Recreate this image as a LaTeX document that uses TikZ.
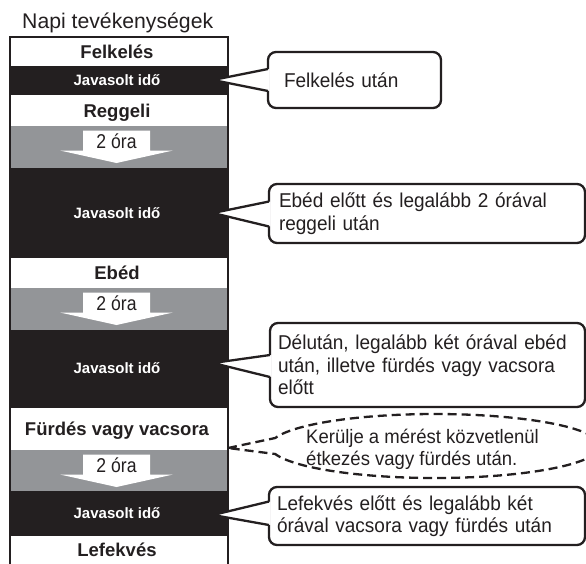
\documentclass[tikz,border=0pt]{standalone}
\usepackage{graphicx}
\usepackage{fontspec}
\setmainfont{Liberation Sans}
\newfontfamily\callfont{Liberation Sans}[FakeStretch=0.95]
\newfontfamily\condfont{Liberation Sans}[FakeStretch=0.88]
\usetikzlibrary{calc}
\definecolor{ink}{HTML}{231F20}
\definecolor{band}{HTML}{939598}
\begin{document}
\begin{tikzpicture}[x=1pt,y=-1pt,
  rowlbl/.style={font=\fontsize{18.5}{20}\selectfont\bfseries, text=ink, inner sep=0pt, text height=13.3pt, text depth=0pt},
  blklbl/.style={font=\fontsize{15}{17}\selectfont\bfseries, text=white, inner sep=0pt, text height=10.7pt, text depth=0pt},
  arrlbl/.style={font=\condfont\fontsize{20}{22}\selectfont, text=ink, inner sep=0pt, text height=14.3pt, text depth=0pt},
  callbox/.style={draw=ink, line width=2.3pt, fill=white, rounded corners=8pt, anchor=north west, outer sep=0pt, align=left, inner ysep=0pt, font=\callfont\fontsize{20}{22.5}\selectfont, text=ink},
  ptr/.style={draw=ink, line width=2.3pt, line join=round},
  dashline/.style={draw=ink, line width=2.3pt, dash pattern=on 9pt off 5pt},
]
\useasboundingbox (0,0) rectangle (586,563);
\begin{scope}
\clip (0,0) rectangle (586,563);
% title
\node[anchor=base west, font=\fontsize{19}{21}\selectfont, text=ink, inner sep=0pt] (title) at (22,28) {\resizebox{191pt}{!}{Napi tevékenységek}};
% bands
\fill[ink] (10,66) rectangle (228,95);
\fill[band] (10,126) rectangle (228,168);
\fill[ink] (10,168) rectangle (228,258);
\fill[band] (10,288) rectangle (228,330);
\fill[ink] (10,330) rectangle (228,408);
\fill[band] (10,450) rectangle (228,491);
\fill[ink] (10,491) rectangle (228,536);
% arrows
\foreach \t/\n in {126/a1,288/a2,450/a3}{
  \fill[white] (83,\t+4.5) -- (150,\t+4.5) -- (150,\t+24.5) -- (173,\t+24.5) -- (116.5,\t+37) -- (60,\t+24.5) -- (83,\t+24.5) -- cycle;
  \node[arrlbl] (\n) at (116.5,\t+15.5) {2 óra};
}
% outer border
\draw[ink, line width=2.2pt] (10,566) -- (10,37) -- (228,37) -- (228,566);
% labels
\node[rowlbl] (l1) at (117,51.5) {Felkelés};
\node[blklbl] (j1) at (117,80.5) {Javasolt idő};
\node[rowlbl] (l2) at (117,110.5) {Reggeli};
\node[blklbl] (j2) at (117,213) {Javasolt idő};
\node[rowlbl] (l3) at (117,272.5) {Ebéd};
\node[blklbl] (j3) at (117,368.5) {Javasolt idő};
\node[rowlbl] (l4) at (117,429) {Fürdés vagy vacsora};
\node[blklbl] (j4) at (117,513.5) {Javasolt idő};
\node[rowlbl] (l5) at (117,550) {Lefekvés};
% callout 1
\node[callbox, minimum width=173pt, minimum height=56pt, inner xsep=16pt, text width=141pt] (c1) at (268,52) {Felkelés után};
\coordinate (t1) at (213,80);
\fill[white] (t1) -- ($(c1.north west)+(1.6,17)$) -- ($(c1.north west)+(1.6,39)$) -- cycle;
\draw[ptr] ($(c1.north west)+(0,17)$) -- (t1) -- ($(c1.north west)+(0,39)$);
% callout 2
\node[callbox, minimum width=316pt, minimum height=59pt, inner xsep=10pt, text width=296pt] (c2) at (269,184) {Ebéd előtt és legalább 2 órával\\reggeli után};
\coordinate (t2) at (213,213);
\fill[white] (t2) -- ($(c2.north west)+(1.6,17.5)$) -- ($(c2.north west)+(1.6,42.5)$) -- cycle;
\draw[ptr] ($(c2.north west)+(0,17.5)$) -- (t2) -- ($(c2.north west)+(0,42.5)$);
% callout 3
\node[callbox, minimum width=315pt, minimum height=84pt, inner xsep=8pt, text width=299pt] (c3) at (270,323) {Délután, legalább két órával ebéd\\után, illetve fürdés vagy vacsora\\előtt};
\coordinate (t3) at (213,363);
\fill[white] (t3) -- ($(c3.north west)+(1.6,32)$) -- ($(c3.north west)+(1.6,54)$) -- cycle;
\draw[ptr] ($(c3.north west)+(0,32)$) -- (t3) -- ($(c3.north west)+(0,54)$);
% callout 5
\node[callbox, minimum width=316pt, minimum height=58pt, inner xsep=8pt, text width=300pt] (c5) at (269,487) {Lefekvés előtt és legalább két\\órával vacsora vagy fürdés után};
\coordinate (t5) at (213,515);
\fill[white] (t5) -- ($(c5.north west)+(1.6,14.5)$) -- ($(c5.north west)+(1.6,38)$) -- cycle;
\draw[ptr] ($(c5.north west)+(0,14.5)$) -- (t5) -- ($(c5.north west)+(0,38)$);
% dashed ellipse callout
\coordinate (etip) at (228,448);
\draw[dashline] (etip) -- plot[domain=194.5:525.5, samples=120, smooth] ({435+165*cos(\x)},{446+32*sin(\x)}) -- cycle;
\node[anchor=west, align=left, font=\callfont\fontsize{19.5}{22}\selectfont, text=ink, inner sep=0pt] (etxt) at (306,449) {Kerülje a mérést közvetlenül\\étkezés vagy fürdés után.};
\end{scope}
\end{tikzpicture}
\end{document}
